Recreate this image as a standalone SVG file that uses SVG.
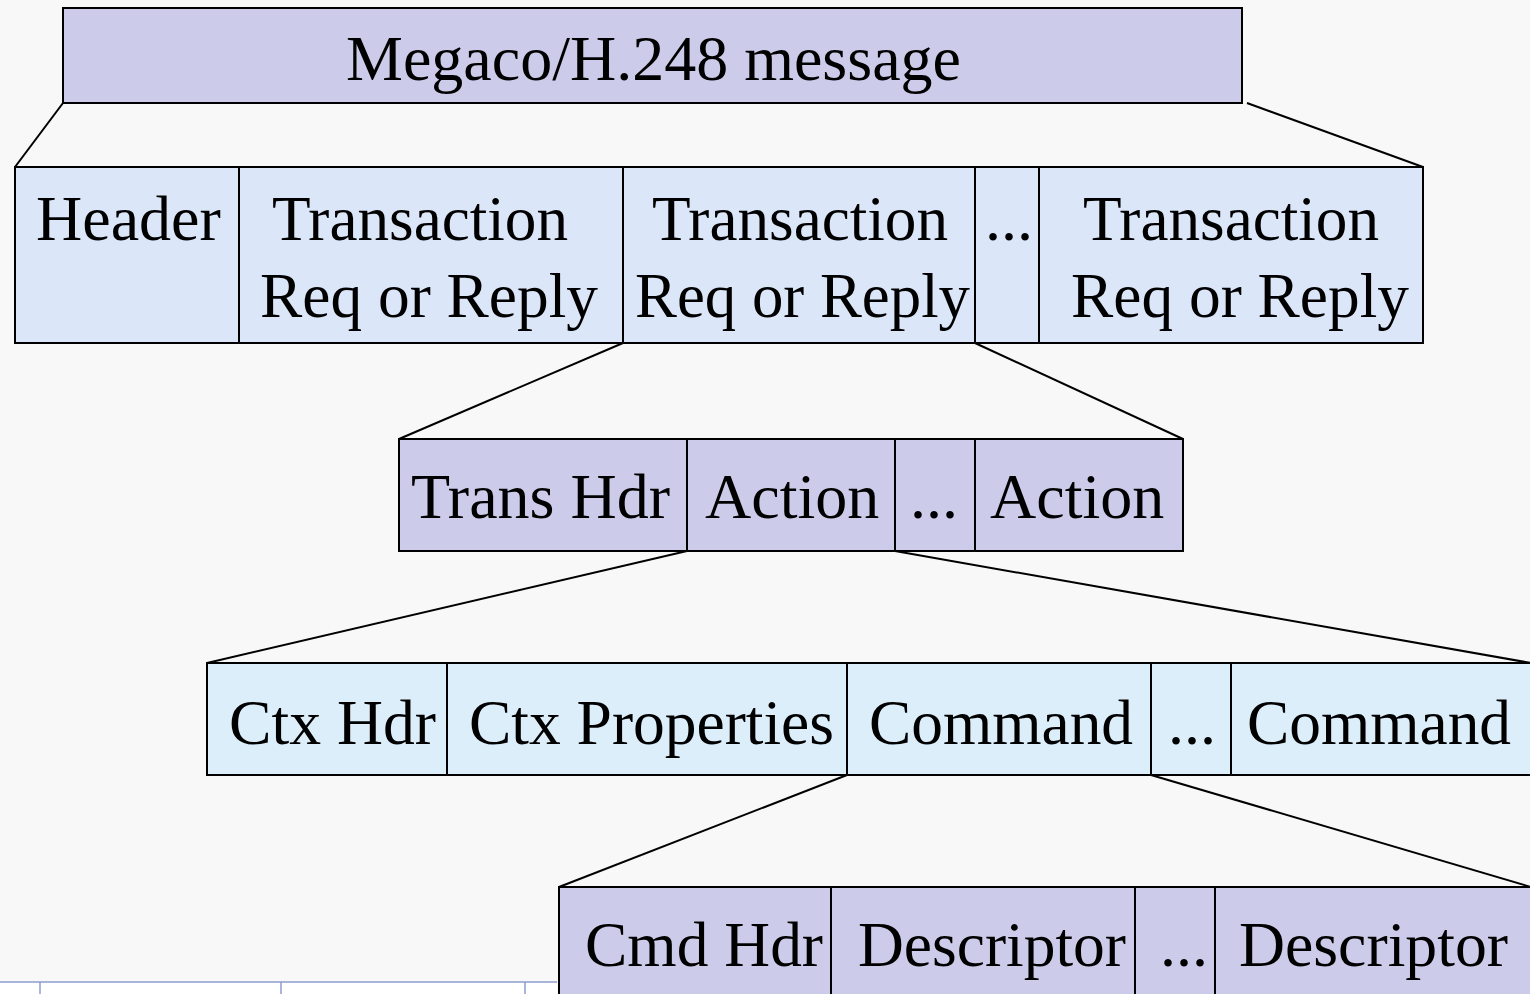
<svg xmlns="http://www.w3.org/2000/svg" width="1530" height="994" viewBox="0 0 1530 994">
<style>
.bg{fill:#f8f8f8}
.lav{fill:#ccccea;stroke:#000;stroke-width:2}
.blue{fill:#dce6f9;stroke:#000;stroke-width:2}
.cyan{fill:#ddeefb;stroke:#000;stroke-width:2}
.div{stroke:#000;stroke-width:2}
.conn line{stroke:#000;stroke-width:2}
text{font-family:"Liberation Serif","Times New Roman",serif;font-size:64px;fill:#000}
.art{stroke:#8c9ccc;stroke-width:1.5}
</style>
<rect class="bg" x="0" y="0" width="1530" height="994"/>
<g id="artifact">
<rect x="0" y="982" width="557" height="12" fill="#ffffff"/>
<line class="art" x1="0" y1="982" x2="557" y2="982"/>
<line class="art" x1="40" y1="982" x2="40" y2="994"/>
<line class="art" x1="281" y1="982" x2="281" y2="994"/>
<line class="art" x1="525" y1="982" x2="525" y2="994"/>
</g>
<g class="conn" id="connectors">
<line x1="63" y1="103" x2="15" y2="167"/>
<line x1="1247" y1="103" x2="1423" y2="167"/>
<line x1="623" y1="343" x2="399" y2="439"/>
<line x1="975" y1="343" x2="1183" y2="439"/>
<line x1="687" y1="551" x2="207" y2="663"/>
<line x1="895" y1="551" x2="1531" y2="663"/>
<line x1="847" y1="775" x2="559" y2="887"/>
<line x1="1151" y1="775" x2="1531" y2="887"/>
</g>
<g id="message">
<rect class="lav" x="63" y="8" width="1179" height="95"/>
<text x="346" y="80">Megaco/H.248 message</text>
</g>
<g id="level1">
<rect class="blue" x="15" y="167" width="1408" height="176"/>
<line class="div" x1="239" y1="167" x2="239" y2="343"/>
<line class="div" x1="623" y1="167" x2="623" y2="343"/>
<line class="div" x1="975" y1="167" x2="975" y2="343"/>
<line class="div" x1="1039" y1="167" x2="1039" y2="343"/>
<text x="36" y="240">Header</text>
<text x="272" y="240" textLength="296" lengthAdjust="spacingAndGlyphs">Transaction</text>
<text x="260" y="317" textLength="338" lengthAdjust="spacingAndGlyphs">Req or Reply</text>
<text x="652" y="240" textLength="296" lengthAdjust="spacingAndGlyphs">Transaction</text>
<text x="635" y="317" textLength="335" lengthAdjust="spacingAndGlyphs">Req or Reply</text>
<text x="985" y="240">...</text>
<text x="1083" y="240" textLength="296" lengthAdjust="spacingAndGlyphs">Transaction</text>
<text x="1071" y="317" textLength="338" lengthAdjust="spacingAndGlyphs">Req or Reply</text>
</g>
<g id="level2">
<rect class="lav" x="399" y="439" width="784" height="112"/>
<line class="div" x1="687" y1="439" x2="687" y2="551"/>
<line class="div" x1="895" y1="439" x2="895" y2="551"/>
<line class="div" x1="975" y1="439" x2="975" y2="551"/>
<text x="411" y="518">Trans Hdr</text>
<text x="705" y="518">Action</text>
<text x="910" y="518">...</text>
<text x="990" y="518">Action</text>
</g>
<g id="level3">
<rect class="cyan" x="207" y="663" width="1340" height="112"/>
<line class="div" x1="447" y1="663" x2="447" y2="775"/>
<line class="div" x1="847" y1="663" x2="847" y2="775"/>
<line class="div" x1="1151" y1="663" x2="1151" y2="775"/>
<line class="div" x1="1231" y1="663" x2="1231" y2="775"/>
<text x="229" y="744" textLength="207" lengthAdjust="spacingAndGlyphs">Ctx Hdr</text>
<text x="469" y="744" textLength="365" lengthAdjust="spacingAndGlyphs">Ctx Properties</text>
<text x="869" y="744" textLength="264" lengthAdjust="spacingAndGlyphs">Command</text>
<text x="1168" y="744">...</text>
<text x="1247" y="744" textLength="264" lengthAdjust="spacingAndGlyphs">Command</text>
</g>
<g id="level4">
<rect class="lav" x="559" y="887" width="990" height="130"/>
<line class="div" x1="831" y1="887" x2="831" y2="1000"/>
<line class="div" x1="1135" y1="887" x2="1135" y2="1000"/>
<line class="div" x1="1215" y1="887" x2="1215" y2="1000"/>
<text x="585" y="966" textLength="238" lengthAdjust="spacingAndGlyphs">Cmd Hdr</text>
<text x="858" y="966" textLength="268" lengthAdjust="spacingAndGlyphs">Descriptor</text>
<text x="1160" y="966">...</text>
<text x="1239" y="966" textLength="269" lengthAdjust="spacingAndGlyphs">Descriptor</text>
</g>
</svg>
